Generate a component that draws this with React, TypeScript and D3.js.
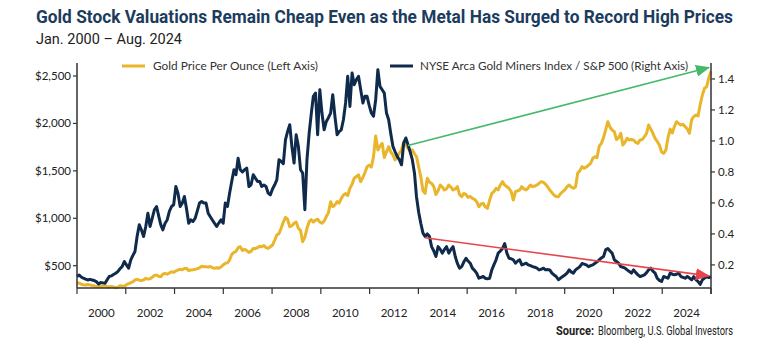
import React from "react";
import * as d3 from "d3";

// ---- Data (monthly, Jan 2000 – Aug 2024) ----
const START_YEAR = 2000;
const GOLD: number[] = [
  314, 318, 305, 300, 297, 302, 298, 292, 288, 279, 282, 286,
  283, 288, 278, 275, 282, 276, 268, 274, 290, 286, 284, 300,
  310, 322, 330, 349, 356, 348, 342, 350, 367, 360, 362, 378,
  398, 402, 388, 384, 410, 420, 410, 424, 436, 430, 444, 455,
  462, 458, 470, 472, 448, 455, 458, 462, 470, 478, 495, 489,
  489, 485, 492, 480, 472, 478, 474, 486, 508, 525, 530, 560,
  620, 640, 650, 690, 700, 660, 672, 660, 640, 650, 682, 680,
  690, 705, 700, 712, 690, 682, 700, 718, 770, 824, 840, 894,
  960, 1009, 990, 911, 920, 947, 960, 894, 870, 753, 800, 894,
  964, 985, 960, 981, 990, 960, 947, 970, 1018, 1060, 1175, 1122,
  1140, 1175, 1160, 1210, 1246, 1260, 1240, 1316, 1360, 1422, 1440, 1457,
  1386, 1430, 1480, 1544, 1560, 1540, 1647, 1868, 1720, 1760, 1790, 1640,
  1700, 1755, 1700, 1670, 1614, 1650, 1685, 1720, 1807, 1770, 1738, 1710,
  1720, 1680, 1649, 1540, 1438, 1290, 1262, 1421, 1380, 1368, 1333, 1250,
  1290, 1351, 1330, 1298, 1310, 1351, 1330, 1298, 1310, 1333, 1250, 1227,
  1262, 1250, 1220, 1230, 1210, 1200, 1175, 1122, 1150, 1157, 1120, 1105,
  1192, 1262, 1280, 1316, 1300, 1351, 1386, 1350, 1333, 1316, 1280, 1192,
  1280, 1290, 1298, 1333, 1310, 1298, 1320, 1351, 1333, 1340, 1351, 1368,
  1386, 1380, 1360, 1333, 1298, 1270, 1244, 1230, 1227, 1260, 1280, 1300,
  1333, 1351, 1330, 1316, 1330, 1474, 1500, 1544, 1527, 1540, 1560, 1580,
  1632, 1649, 1640, 1760, 1790, 1850, 1931, 2018, 1960, 1931, 1913, 1830,
  1850, 1896, 1773, 1800, 1843, 1826, 1830, 1826, 1800, 1790, 1826, 1830,
  1860, 1896, 1983, 1940, 1896, 1843, 1810, 1773, 1700, 1685, 1720, 1850,
  1940, 1900, 1966, 2018, 2000, 1983, 1990, 1966, 1940, 1896, 2040, 2071,
  2089, 2080, 2200, 2300, 2370, 2387, 2480, 2550,
];

const RATIO: number[] = [
  0.125, 0.135, 0.122, 0.114, 0.108, 0.103, 0.107, 0.103, 0.099, 0.092, 0.077, 0.086,
  0.084, 0.082, 0.103, 0.125, 0.129, 0.138, 0.146, 0.157, 0.175, 0.189, 0.222, 0.2,
  0.179, 0.232, 0.26, 0.286, 0.383, 0.459, 0.426, 0.383, 0.448, 0.534, 0.448, 0.5,
  0.556, 0.577, 0.52, 0.46, 0.426, 0.469, 0.49, 0.545, 0.577, 0.588, 0.706, 0.663,
  0.577, 0.6, 0.642, 0.56, 0.469, 0.491, 0.48, 0.502, 0.55, 0.599, 0.609, 0.6,
  0.599, 0.534, 0.512, 0.49, 0.469, 0.448, 0.47, 0.491, 0.469, 0.599, 0.577, 0.663,
  0.74, 0.814, 0.782, 0.889, 0.814, 0.8, 0.814, 0.825, 0.706, 0.717, 0.782, 0.76,
  0.739, 0.739, 0.706, 0.715, 0.706, 0.663, 0.652, 0.69, 0.717, 0.749, 0.879, 0.868,
  0.853, 1.008, 1.06, 1.105, 0.965, 0.857, 1.04, 0.965, 0.814, 0.793, 0.556, 0.88,
  1.05, 1.18, 1.288, 1.309, 1.04, 1.331, 1.18, 1.072, 1.126, 1.15, 1.18, 1.298,
  1.159, 1.04, 1.06, 1.072, 1.137, 1.245, 1.417, 1.223, 1.439, 1.363, 1.396, 1.417,
  1.33, 1.245, 1.288, 1.288, 1.23, 1.18, 1.159, 1.266, 1.46, 1.352, 1.33, 1.309,
  1.18, 1.137, 1.05, 0.965, 0.932, 0.9, 0.879, 0.846, 0.986, 1.019, 0.976, 0.93,
  0.879, 0.79, 0.64, 0.54, 0.469, 0.405, 0.383, 0.4, 0.383, 0.318, 0.29, 0.254,
  0.318, 0.3, 0.276, 0.3, 0.318, 0.276, 0.3, 0.318, 0.254, 0.21, 0.179, 0.189,
  0.22, 0.243, 0.225, 0.211, 0.179, 0.165, 0.147, 0.114, 0.12, 0.125, 0.114, 0.11,
  0.114, 0.168, 0.2, 0.233, 0.276, 0.29, 0.306, 0.338, 0.276, 0.243, 0.24, 0.233,
  0.211, 0.225, 0.233, 0.2, 0.205, 0.211, 0.2, 0.195, 0.189, 0.185, 0.179, 0.168,
  0.172, 0.179, 0.168, 0.17, 0.168, 0.147, 0.135, 0.125, 0.104, 0.115, 0.125, 0.135,
  0.147, 0.168, 0.155, 0.147, 0.168, 0.178, 0.189, 0.209, 0.205, 0.2, 0.189, 0.195,
  0.2, 0.211, 0.22, 0.233, 0.245, 0.254, 0.297, 0.306, 0.29, 0.276, 0.233, 0.222,
  0.211, 0.189, 0.185, 0.179, 0.168, 0.158, 0.147, 0.168, 0.15, 0.136, 0.125, 0.13,
  0.136, 0.15, 0.168, 0.179, 0.16, 0.147, 0.114, 0.1, 0.093, 0.125, 0.12, 0.114,
  0.147, 0.14, 0.136, 0.14, 0.147, 0.125, 0.12, 0.114, 0.125, 0.115, 0.104, 0.124,
  0.105, 0.092, 0.074, 0.103, 0.115, 0.124, 0.118, 0.124,
];

const X_LABELS = ["2000", "2002", "2004", "2006", "2008", "2010", "2012", "2014", "2016", "2018", "2020", "2022", "2024"];
const LEFT_TICKS = [500, 1000, 1500, 2000, 2500];
const RIGHT_TICKS = [0.2, 0.4, 0.6, 0.8, 1.0, 1.2, 1.4];

// Trend arrows (date, right-axis value)
const ARROWS = [
  { from: [new Date(2012, 9, 30), 0.97], to: [new Date(2024, 6, 4), 1.474], color: "#45b96b", id: "g" },
  { from: [new Date(2013, 5, 28), 0.375], to: [new Date(2024, 6, 1), 0.129], color: "#e8454a", id: "r" },
];

const TITLE = "Gold Stock Valuations Remain Cheap Even as the Metal Has Surged to Record High Prices";
const SUBTITLE = "Jan. 2000 \u2013 Aug. 2024";
const LEGEND_GOLD = "Gold Price Per Ounce (Left Axis)";
const LEGEND_RATIO = "NYSE Arca Gold Miners Index / S&P 500 (Right Axis)";
const SOURCE_LABEL = "Source:";
const SOURCE_TEXT = "Bloomberg, U.S. Global Investors";

const GOLD_COLOR = "#e9b52a";
const NAVY = "#0f2a4b";
const AXIS = "#333333";
const FONT = "Lato, 'Open Sans', sans-serif";
const NARROW = "'Liberation Sans Narrow', 'Roboto', sans-serif";

export default function App() {
  const W = 778;
  const H = 355;
  const left = 77, right = 711, top = 63, bottom = 288;

  const months = GOLD.map((_, i) => d3.timeMonth.offset(new Date(START_YEAR, 0, 1), i));
  const x = d3.scaleTime().domain([months[0], months[months.length - 1]]).range([left, right]);
  const yL = d3.scaleLinear().domain([265, 2637]).range([bottom, top]);
  const yR = d3.scaleLinear().domain([0.051, 1.503]).range([bottom, top]);
  const band = d3.scaleBand<string>().domain(X_LABELS).range([left, right]);

  const goldLine = d3.line<number>().x((_, i) => x(months[i])).y((d) => yL(d));
  const ratioLine = d3.line<number>().x((_, i) => x(months[i])).y((d) => yR(d));

  const tickXs = [...X_LABELS.map((l) => band(l) as number), right];

  return (
    <div style={{ position: "absolute", left: 0, top: 0 }}>
      <svg width={W} height={H} style={{ display: "block", background: "#fff" }}>
        <defs>
          {ARROWS.map((a) => (
            <marker key={a.id} id={`arrow-${a.id}`} markerUnits="userSpaceOnUse" markerWidth={14} markerHeight={12}
              refX={13} refY={6} orient="auto" viewBox="0 0 14 12">
              <path d="M0,0 L14,6 L0,12 Z" fill={a.color} />
            </marker>
          ))}
        </defs>

        <text x={36} y={23} fontFamily={NARROW} fontWeight={700} fontSize={17.5} fill="#1c3c5e"
          textLength={697} lengthAdjust="spacingAndGlyphs">{TITLE}</text>
        <text x={36} y={44} fontFamily={NARROW} fontSize={14} fill="#222"
          textLength={146} lengthAdjust="spacingAndGlyphs">{SUBTITLE}</text>

        {/* Legend */}
        <line x1={122} x2={145} y1={66} y2={66} stroke={GOLD_COLOR} strokeWidth={3} />
        <text x={153} y={70} fontFamily={FONT} fontSize={11.5} fill="#333" textLength={165} lengthAdjust="spacingAndGlyphs">{LEGEND_GOLD}</text>
        <line x1={390} x2={413} y1={66} y2={66} stroke={NAVY} strokeWidth={3} />
        <text x={420} y={70} fontFamily={FONT} fontSize={11.5} fill="#333" textLength={268} lengthAdjust="spacingAndGlyphs">{LEGEND_RATIO}</text>

        {/* Series */}
        <path d={goldLine(GOLD) || ""} fill="none" stroke={GOLD_COLOR} strokeWidth={3} strokeLinejoin="round" />
        <path d={ratioLine(RATIO) || ""} fill="none" stroke={NAVY} strokeWidth={3} strokeLinejoin="round" />

        {/* Arrows */}
        {ARROWS.map((a) => (
          <line key={a.id} x1={x(a.from[0] as Date)} y1={yR(a.from[1] as number)}
            x2={x(a.to[0] as Date)} y2={yR(a.to[1] as number)}
            stroke={a.color} strokeWidth={1.6} markerEnd={`url(#arrow-${a.id})`} />
        ))}

        {/* Axes */}
        <line x1={left} x2={left} y1={top} y2={bottom} stroke={AXIS} strokeWidth={1.5} />
        <line x1={right} x2={right} y1={top} y2={bottom + 6} stroke={AXIS} strokeWidth={1.5} />
        <line x1={left} x2={right} y1={bottom} y2={bottom} stroke={AXIS} strokeWidth={1.5} />
        {tickXs.map((t, i) => (
          <line key={i} x1={t} x2={t} y1={bottom} y2={bottom + 6} stroke={AXIS} strokeWidth={1.2} />
        ))}
        {X_LABELS.map((l) => (
          <text key={l} x={(band(l) as number) + band.bandwidth() / 2} y={317} textAnchor="middle"
            fontFamily={FONT} fontSize={11.5} fill="#222">{l}</text>
        ))}
        {LEFT_TICKS.map((v) => (
          <g key={v}>
            <line x1={left - 4} x2={left} y1={yL(v)} y2={yL(v)} stroke={AXIS} strokeWidth={1.2} />
            <text x={left - 6} y={yL(v) + 4} textAnchor="end" fontFamily={FONT} fontSize={11.5} fill="#222">
              {d3.format("$,")(v)}
            </text>
          </g>
        ))}
        {RIGHT_TICKS.map((v) => (
          <g key={v}>
            <line x1={right} x2={right + 4} y1={yR(v)} y2={yR(v)} stroke={AXIS} strokeWidth={1.2} />
            <text x={right + 7} y={yR(v) + 4} fontFamily={FONT} fontSize={11.5} fill="#222">
              {d3.format(".1f")(v)}
            </text>
          </g>
        ))}

        <text x={556} y={335} fontFamily={NARROW} fontWeight={700} fontSize={12.5} fill="#222"
          textLength={38} lengthAdjust="spacingAndGlyphs">{SOURCE_LABEL}</text>
        <text x={733} y={335} textAnchor="end" fontFamily={NARROW} fontSize={12.5} fill="#222"
          textLength={135} lengthAdjust="spacingAndGlyphs">{SOURCE_TEXT}</text>
      </svg>
    </div>
  );
}
